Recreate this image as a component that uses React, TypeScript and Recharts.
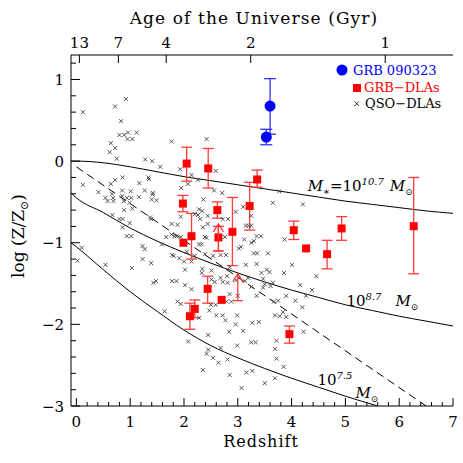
import React from 'react';
import { ComposedChart, XAxis, YAxis, Line, Scatter, ErrorBar, ReferenceDot } from 'recharts';

const FONT = '"DejaVu Serif", serif';

// ---- model curves (redshift, log Z/Zsun) ----
const curveZ = [-0.1, 0, 0.5, 1, 1.5, 2, 2.5, 3, 3.5, 4, 4.5, 5, 5.5, 6, 6.5, 7];
const mass107 = [0.0, 0.0, -0.02, -0.07, -0.13, -0.19, -0.24, -0.29, -0.34, -0.39, -0.44, -0.49, -0.53, -0.57, -0.61, -0.64];
const mass87 = [-0.39, -0.45, -0.63, -0.82, -0.98, -1.12, -1.25, -1.37, -1.48, -1.58, -1.67, -1.76, -1.83, -1.9, -1.96, -2.02];
const lowZ = [-0.1, 0, 0.5, 1, 1.5, 2, 2.5, 3, 3.5, 4, 4.5, 5, 5.6];
const mass75 = [-1.0, -1.05, -1.33, -1.6, -1.84, -2.07, -2.26, -2.41, -2.54, -2.66, -2.77, -2.88, -3.0];
const dashZ = [0, 6.5];
const dashV = [-0.07, -3.0];

// ---- QSO-DLAs ----
const qsoZ = [0.92,0.72,0.12,0.83,0.8,0.89,0.96,1.12,1.04,0.95,1.77,0.64,0.72,0.62,0.75,1.28,1.41,1.56,1.93,2.42,
1.34,1.35,0.86,0.72,1.17,0.64,0.12,0.85,1.01,1.27,0.41,1.42,1.42,1.95,0.54,0.58,0.69,0.66,0.68,0.85,
0.94,1.02,0.88,0.99,1.04,1.16,1.49,1.4,0.89,0.67,0.8,0.86,1.37,1.39,0.99,0.86,1.77,1.88,1.94,0.94,
1.02,1.67,1.77,1.82,1.86,1.94,2.14,2.59,2.26,2.56,2.71,2.07,2.36,2.28,2.34,2.2,2.26,2.3,2.44,2.96,
3.1,3.65,4.21,2.72,2.82,2.44,2.35,3.15,3.2,2.39,2.42,2.28,2.33,2.76,3.12,3.25,3.3,3.02,3.06,3.35,
3.43,3.3,3.36,3.56,2.68,2.78,2.54,2.39,2.2,2.14,2.0,2.05,3.15,3.35,3.44,3.59,3.86,4.01,2.34,2.33,
2.51,2.68,2.8,2.85,3.19,3.77,3.25,3.25,3.87,3.54,4.46,4.16,4.38,3.47,3.61,3.25,3.35,3.47,3.67,3.75,
3.9,4.07,4.27,4.2,3.69,3.78,3.84,3.9,3.27,3.39,4.22,3.72,3.25,3.33,0.1,0.02,0.54,1.03,1.23,1.27,
1.23,1.39,1.59,1.43,1.48,1.78,1.78,1.81,1.91,2.02,2.02,1.88,1.94,1.64,2.08,2.45,2.42,2.54,2.64,2.35,
2.85,3.16,3.27,3.07,3.5,3.72,2.99,2.84,2.96,3.1,2.99,2.6,2.77,2.72,2.47,2.23,2.28,2.59,2.5,2.88,
2.79,1.86,2.14,2.51,2.57,2.72,2.81,2.97,3.13,2.85,3.0,3.5,3.65,2.45,2.81,2.68,3.69,3.85,3.69];
const qsoV = [0.76,0.67,0.6,0.49,0.32,0.32,0.35,0.35,0.27,0.27,0.24,0.22,0.16,0.11,0.03,0.02,0.0,-0.07,-0.1,0.27,
-0.2,-0.22,-0.2,-0.23,-0.27,-0.28,-0.29,-0.36,-0.37,-0.36,-0.38,-0.39,-0.41,-0.33,-0.45,-0.49,-0.49,-0.4,-0.45,-0.43,
-0.45,-0.45,-0.49,-0.51,-0.58,-0.44,-0.48,-0.47,-0.6,-0.66,-0.71,-0.71,-0.69,-0.71,-0.76,-0.81,-0.77,-0.78,-0.68,-0.92,
-0.92,-0.93,-0.9,-0.92,-0.92,-0.93,-0.17,-0.12,-0.23,-0.36,-0.39,-0.28,-0.47,-0.59,-0.61,-0.65,-0.66,-0.71,-0.67,-0.62,
-0.56,-0.51,-0.53,-0.71,-0.71,-0.77,-0.81,-0.79,-0.79,-0.93,-0.94,-1.02,-1.02,-0.93,-0.96,-1.0,-0.98,-1.07,-1.05,-0.92,
-0.92,-1.13,-1.13,-1.13,-1.15,-1.15,-1.16,-1.14,-1.16,-1.23,-1.23,-1.11,-1.27,-1.26,-1.37,-1.36,-1.37,-1.27,-1.32,-1.37,
-1.34,-1.43,-1.41,-1.3,-1.43,-0.37,-0.67,-0.79,-0.96,-1.33,-1.41,-1.52,-1.58,-1.44,-1.53,-1.54,-1.65,-1.55,-1.72,-1.71,
-1.65,-1.71,-1.65,-1.79,-1.89,-1.9,-1.85,-1.91,-1.98,-1.97,-2.09,-2.2,-2.22,-2.22,-1.06,-1.22,-1.27,-1.31,-1.04,-1.08,
-1.2,-1.25,-1.02,-1.49,-1.47,-1.47,-1.15,-1.16,-1.19,-1.33,-1.52,-1.72,-1.75,-1.84,-2.21,-2.31,-2.36,-2.41,-2.47,-2.56,
-2.62,-2.59,-2.57,-2.78,-2.72,-2.42,-1.89,-2.09,-2.0,-2.08,-2.26,-1.89,-1.95,-1.89,-1.83,-1.84,-1.92,-1.76,-1.76,-1.72,
-1.72,-1.47,-1.57,-1.45,-1.48,-1.48,-1.49,-1.46,-1.47,-1.63,-1.65,-1.51,-1.49,-2.13,-2.43,-2.29,-2.66,-2.52,-2.3];

// ---- GRB-DLAs with error bars ----
const dlaZ = [1.98, 2.05, 2.14, 2.11, 2.2, 2.45, 2.44, 2.62, 2.64, 2.9, 3.22, 3.36, 3.96, 4.04, 4.66, 4.93, 6.27];
const dlaV = [-0.52, -0.03, -0.92, -1.9, -1.81, -0.09, -1.565, -0.6, -0.935, -0.866, -0.55, -0.225, -2.12, -0.846, -1.14, -0.825, -0.797];
const dlaLo = [-0.62, -0.245, -1.2, -2.06, -1.92, -0.33, -1.74, -0.7, -1.1, -1.28, -0.845, -0.32, -2.23, -0.96, -1.32, -0.97, -1.38];
const dlaHi = [-0.42, 0.17, -0.64, -1.74, -1.7, 0.155, -1.41, -0.5, -0.8, -0.445, -0.26, -0.11, -2.02, -0.735, -0.97, -0.68, -0.2];
// GRB-DLAs without error bars
const dlaPlainZ = [1.99, 2.7, 4.27];
const dlaPlainV = [-1.0, -1.7, -1.07];
// GRB-DLA lower limits
const limZ = [2.64, 3.0];
const limV = [-1.1, -1.71];

// ---- GRB 090323 ----
const grbZ = [3.6, 3.53];
const grbV = [0.674, 0.294];
const grbLo = [0.33, 0.2];
const grbHi = [1.01, 0.39];

// ---- axes ----
const xMajorTicks = [0, 1, 2, 3, 4, 5, 6, 7];
const yMajorTicks = [-3, -2, -1, 0, 1];
const ageLabels = ['13', '7', '4', '2', '1'];
const ageRedshifts = [0.056, 0.78, 1.67, 3.24, 5.74];

const xTicks: number[] = [];
for (let i = 0; i <= 35; i++) xTicks.push(Number((i * 0.2).toFixed(1)));
const yTicks: number[] = [];
for (let i = 0; i <= 21; i++) yTicks.push(Number((-3 + i * 0.2).toFixed(1)));

const isMajor = (v: number, majors: number[]) => majors.some((m) => Math.abs(m - v) < 1e-6);
const fmt = (v: number) => (v < 0 ? '\u2212' + Math.abs(v) : String(v));

const zip = (zs: number[], vs: number[]) => zs.map((z, i) => ({ z, v: vs[i] }));
const top107 = zip(curveZ, mass107);
const mid87 = zip(curveZ, mass87);
const low75 = zip(lowZ, mass75);
const dashData = zip(dashZ, dashV);
const qsoData = zip(qsoZ, qsoV);
const dlaData = dlaZ.map((z, i) => ({ z, v: dlaV[i], err: [dlaV[i] - dlaLo[i], dlaHi[i] - dlaV[i]] }));
const dlaPlain = zip(dlaPlainZ, dlaPlainV);
const limData = zip(limZ, limV);
const grbData = grbZ.map((z, i) => ({ z, v: grbV[i], err: [grbV[i] - grbLo[i], grbHi[i] - grbV[i]] }));

const BottomTick = (p: any) => {
  const v = p.payload.value;
  const maj = isMajor(v, xMajorTicks);
  return (
    <g>
      <line x1={p.x} x2={p.x} y1={p.y} y2={p.y - (maj ? 8 : 4)} stroke="#000" strokeWidth={1} />
      {maj && (
        <text x={p.x} y={p.y + 21} textAnchor="middle" fontFamily={FONT} fontSize={15} fill="#000">
          {fmt(v)}
        </text>
      )}
    </g>
  );
};
const LeftTick = (p: any) => {
  const v = p.payload.value;
  const maj = isMajor(v, yMajorTicks);
  return (
    <g>
      <line x1={p.x} x2={p.x + (maj ? 9 : 5)} y1={p.y} y2={p.y} stroke="#000" strokeWidth={1} />
      {maj && (
        <text x={p.x - 7} y={p.y + 5.5} textAnchor="end" fontFamily={FONT} fontSize={15} fill="#000">
          {fmt(v)}
        </text>
      )}
    </g>
  );
};
const RightTick = (p: any) => {
  const v = p.payload.value;
  const maj = isMajor(v, yMajorTicks);
  return <line x1={p.x} x2={p.x - (maj ? 9 : 5)} y1={p.y} y2={p.y} stroke="#000" strokeWidth={1} />;
};
const TopTick = (p: any) => {
  const i = ageRedshifts.findIndex((r) => Math.abs(r - p.payload.value) < 1e-6);
  return (
    <g>
      <line x1={p.x} x2={p.x} y1={p.y} y2={p.y + 8} stroke="#000" strokeWidth={1} />
      <text x={p.x} y={p.y - 7} textAnchor="middle" fontFamily={FONT} fontSize={15} fill="#000">
        {ageLabels[i]}
      </text>
    </g>
  );
};

const Cross = (p: any) => {
  const { cx, cy } = p;
  const s = 2;
  return (
    <g stroke="#444" strokeWidth={0.9}>
      <line x1={cx - s} y1={cy - s} x2={cx + s} y2={cy + s} />
      <line x1={cx - s} y1={cy + s} x2={cx + s} y2={cy - s} />
    </g>
  );
};
const Square = (p: any) => <rect x={p.cx - 4} y={p.cy - 4} width={8} height={8} fill="#ff0000" />;
const Dot = (p: any) => <circle cx={p.cx} cy={p.cy} r={5.5} fill="#0000ff" />;
const LimitArrow = (p: any) => {
  const { cx, cy } = p;
  return (
    <g stroke="#ff3030" strokeWidth={1.2} fill="none">
      <line x1={cx - 5} x2={cx + 5} y1={cy} y2={cy} />
      <line x1={cx} x2={cx} y1={cy} y2={cy - 27} />
      <polyline points={`${cx - 5},${cy - 19} ${cx},${cy - 27} ${cx + 5},${cy - 19}`} />
    </g>
  );
};

const labelFont = { fontFamily: FONT, fontSize: 15, fill: '#000' };

const Label107 = (p: any) => (
  <text x={p.cx} y={p.cy} {...labelFont}>
    <tspan fontStyle="italic">M</tspan>
    <tspan fontSize={10} dy={4}>{'\u2217'}</tspan>
    <tspan dy={-4}>=10</tspan>
    <tspan fontSize={10} fontStyle="italic" dy={-6}>10.7</tspan>
    <tspan dy={6} dx={6} fontStyle="italic">M</tspan>
    <tspan fontSize={9} dy={4}>{'\u2299'}</tspan>
  </text>
);
const Label87 = (p: any) => (
  <text x={p.cx} y={p.cy} {...labelFont}>
    <tspan>10</tspan>
    <tspan fontSize={10} fontStyle="italic" dy={-6}>8.7</tspan>
    <tspan dy={6} dx={14} fontStyle="italic">M</tspan>
    <tspan fontSize={9} dy={4}>{'\u2299'}</tspan>
  </text>
);
const Label75 = (p: any) => (
  <text x={p.cx} y={p.cy} {...labelFont}>
    <tspan>10</tspan>
    <tspan fontSize={10} fontStyle="italic" dy={-6}>7.5</tspan>
    <tspan dy={19} dx={3} fontStyle="italic">M</tspan>
    <tspan fontSize={9} dy={4}>{'\u2299'}</tspan>
  </text>
);

export default function App() {
  return (
    <div style={{ position: 'absolute', left: 0, top: 0, width: 463, height: 463, background: '#fff' }}>
      <ComposedChart width={463} height={463} margin={{ top: 25, right: 10, bottom: 27, left: 31 }}>
        <XAxis
          dataKey="z"
          type="number"
          domain={[-0.1, 7]}
          allowDataOverflow
          ticks={xTicks}
          interval={0}
          tickSize={0}
          tickMargin={0}
          tickLine={false}
          tick={BottomTick}
          height={30}
          axisLine={{ stroke: '#000' }}
        />
        <XAxis
          xAxisId="top"
          orientation="top"
          dataKey="z"
          type="number"
          domain={[-0.1, 7]}
          allowDataOverflow
          ticks={ageRedshifts}
          interval={0}
          tickSize={0}
          tickMargin={0}
          tickLine={false}
          tick={TopTick}
          height={30}
          axisLine={{ stroke: '#000' }}
        />
        <YAxis
          dataKey="v"
          type="number"
          domain={[-3, 1.3]}
          allowDataOverflow
          ticks={yTicks}
          interval={0}
          tickSize={0}
          tickMargin={0}
          tickLine={false}
          tick={LeftTick}
          width={40}
          axisLine={{ stroke: '#000' }}
        />
        <YAxis
          yAxisId="right"
          orientation="right"
          dataKey="v"
          type="number"
          domain={[-3, 1.3]}
          allowDataOverflow
          ticks={yTicks}
          interval={0}
          tickSize={0}
          tickMargin={0}
          tickLine={false}
          tick={RightTick}
          width={0}
          axisLine={{ stroke: '#000' }}
        />
        <Line data={top107} dataKey="v" type="monotone" stroke="#000" strokeWidth={1} dot={false} isAnimationActive={false} />
        <Line data={mid87} dataKey="v" type="monotone" stroke="#000" strokeWidth={1} dot={false} isAnimationActive={false} />
        <Line data={low75} dataKey="v" type="monotone" stroke="#000" strokeWidth={1} dot={false} isAnimationActive={false} />
        <Line
          data={dashData}
          dataKey="v"
          xAxisId="top"
          yAxisId="right"
          type="linear"
          stroke="#000"
          strokeWidth={1}
          strokeDasharray="8 5"
          dot={false}
          isAnimationActive={false}
        />
        <Scatter data={qsoData} shape={Cross} isAnimationActive={false} />
        <Scatter data={dlaData} shape={Square} isAnimationActive={false}>
          <ErrorBar dataKey="err" direction="y" width={5.5} stroke="#ff3b3b" strokeWidth={1.3} />
        </Scatter>
        <Scatter data={dlaPlain} shape={Square} isAnimationActive={false} />
        <Scatter data={limData} shape={LimitArrow} isAnimationActive={false} />
        <Scatter data={grbData} shape={Dot} isAnimationActive={false}>
          <ErrorBar dataKey="err" direction="y" width={6} stroke="#2020ff" strokeWidth={1.2} />
        </Scatter>
        <ReferenceDot x={4.3} y={-0.37} r={0} shape={Label107} />
        <ReferenceDot x={5.02} y={-1.78} r={0} shape={Label87} />
        <ReferenceDot x={4.48} y={-2.74} r={0} shape={Label75} />
      </ComposedChart>
      <svg width={463} height={463} style={{ position: 'absolute', left: 0, top: 0, pointerEvents: 'none' }}>
        <text x={254} y={24} textAnchor="middle" fontFamily={FONT} fontSize={17} letterSpacing={1.1} fill="#000">
          Age of the Universe (Gyr)
        </text>
        <text x={261} y={447} textAnchor="middle" fontFamily={FONT} fontSize={16} letterSpacing={1} fill="#000">
          Redshift
        </text>
        <text transform="translate(24,236) rotate(-90)" textAnchor="middle" fontFamily={FONT} fontSize={17} fill="#000">
          log (Z/Z<tspan fontSize={11} dy={4}>{'\u2299'}</tspan>
          <tspan dy={-4}>)</tspan>
        </text>
        <circle cx={342} cy={70} r={5.5} fill="#0000ff" />
        <text x={353} y={75} fontFamily={FONT} fontSize={13} fill="#0000ff">GRB 090323</text>
        <rect x={353} y={84} width={8} height={8} fill="#ff0000" />
        <text x={364} y={92} fontFamily={FONT} fontSize={13} fill="#ff0000">GRB{'\u2212'}DLAs</text>
        <g stroke="#333" strokeWidth={1}>
          <line x1={354.5} y1={101.5} x2={359} y2={106} />
          <line x1={354.5} y1={106} x2={359} y2={101.5} />
        </g>
        <text x={365} y={108} fontFamily={FONT} fontSize={13} fill="#000">QSO{'\u2212'}DLAs</text>
      </svg>
    </div>
  );
}
